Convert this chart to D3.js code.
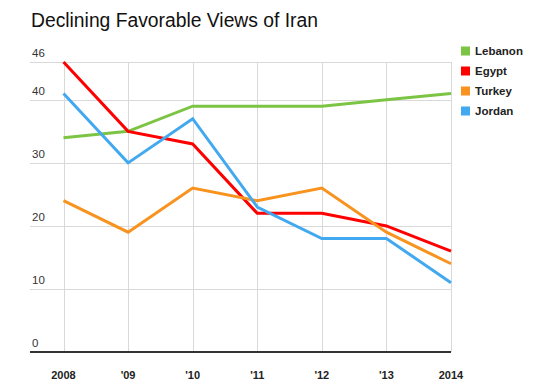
<!DOCTYPE html>
<html><head><meta charset="utf-8">
<script src="https://cdn.jsdelivr.net/npm/d3@7"></script>
<style>body{margin:0;background:#fff;} svg{display:block;font-family:"Liberation Sans",Helvetica,Arial,sans-serif;}</style>
</head><body>
<svg id="c" width="555" height="392"></svg>
<script>
const years = ["2008","'09","'10","'11","'12","'13","2014"];
const yTicks = [0,10,20,30,40,46];
const seriesNames = ["Lebanon","Egypt","Turkey","Jordan"];
const seriesColors = ["#7cc444","#ff0000","#f7931e","#42a9f0"];
const lebanon = [34,35,39,39,39,40,41];
const egypt = [46,35,33,22,22,20,16];
const turkey = [24,19,26,24,26,19,14];
const jordan = [41,30,37,23,18,18,11];
const seriesValues = [lebanon, egypt, turkey, jordan];

const svg = d3.select("#c");
const x = d3.scalePoint().domain(years).range([63.5, 451]);
const y = d3.scaleLinear().domain([0,46]).range([352, 62]);

svg.append("text").attr("x",31).attr("y",27).attr("font-size",19.5).attr("fill","#111")
  .attr("textLength",287).attr("lengthAdjust","spacingAndGlyphs")
  .text("Declining Favorable Views of Iran");

const g = svg.append("g");
g.selectAll("line.h").data(yTicks.filter(d=>d>0)).join("line")
  .attr("x1",30).attr("x2",451).attr("y1",d=>Math.round(y(d))+0.5).attr("y2",d=>Math.round(y(d))+0.5)
  .attr("stroke","#d9d9d9").attr("stroke-width",1);
g.selectAll("line.v").data(years).join("line")
  .attr("x1",d=>Math.round(x(d))+0.5).attr("x2",d=>Math.round(x(d))+0.5).attr("y1",y(46)).attr("y2",y(0))
  .attr("stroke","#d9d9d9").attr("stroke-width",1);
g.selectAll("text.yl").data(yTicks).join("text")
  .attr("x",32).attr("y",d=>y(d)-5).attr("font-size",11.5).attr("fill","#333").text(d=>d);
g.append("line").attr("x1",30).attr("x2",451).attr("y1",y(0)).attr("y2",y(0))
  .attr("stroke","#333").attr("stroke-width",2);
g.selectAll("text.xl").data(years).join("text")
  .attr("x",d=>x(d)).attr("y",379).attr("text-anchor","middle").attr("font-size",11)
  .attr("font-weight","bold").attr("fill","#222").text(d=>d);

const line = d3.line().x((d,i)=>x(years[i])).y(d=>y(d));
seriesValues.forEach((vals,i)=>{
  svg.append("path").attr("d",line(vals)).attr("fill","none")
    .attr("stroke",seriesColors[i]).attr("stroke-width",3).attr("stroke-linejoin","miter");
});

const lg = svg.append("g");
seriesNames.forEach((n,i)=>{
  const yy = 51 + i*20;
  lg.append("rect").attr("x",461).attr("y",yy-4.5).attr("width",9).attr("height",9).attr("fill",seriesColors[i]);
  lg.append("text").attr("x",475).attr("y",yy+4).attr("font-size",11.5).attr("font-weight","bold")
    .attr("fill","#222").text(n);
});
</script>
</body></html>
